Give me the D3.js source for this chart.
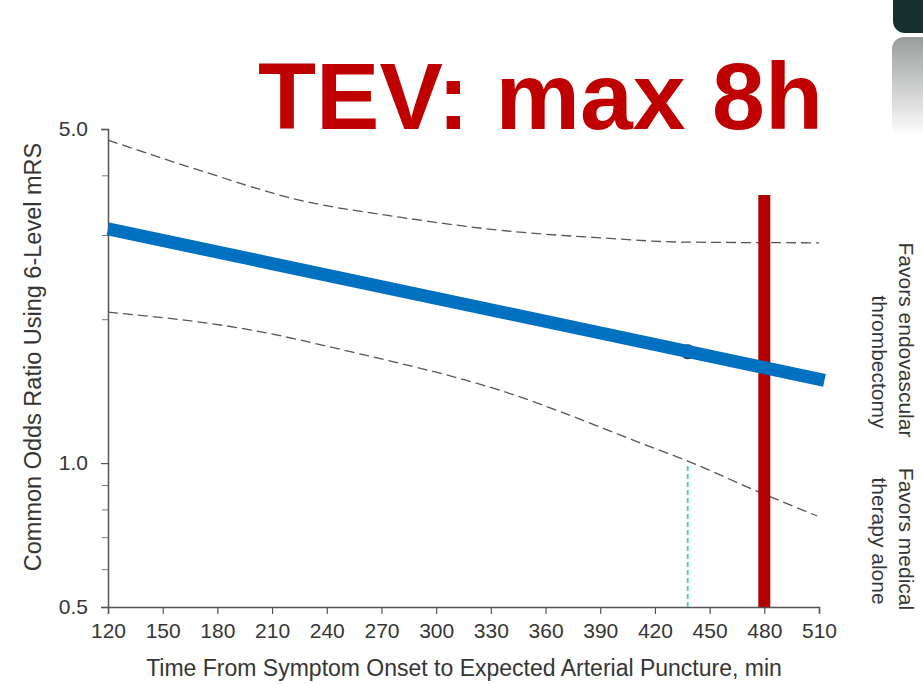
<!DOCTYPE html>
<html>
<head>
<meta charset="utf-8">
<script src="https://cdn.jsdelivr.net/npm/d3@7"></script>
<style>
  html, body { margin: 0; padding: 0; background: #ffffff; }
  svg { display: block; }
</style>
</head>
<body>
<div id="chart"></div>
<script>
// ---- data ----
const xTickValues = [120, 150, 180, 210, 240, 270, 300, 330, 360, 390, 420, 450, 480, 510];
const yMajorTicks = [0.5, 1.0, 5.0];
const yMinorTicks = [0.6, 0.7, 0.8, 0.9, 2, 3, 4];

const upperTime = [120, 170, 225, 280, 335, 390, 435, 510];
const upperOR   = [4.74, 4.10, 3.55, 3.27, 3.07, 2.96, 2.90, 2.89];

const lowerTime = [120, 198, 253, 335, 418, 438, 474, 509];
const lowerOR   = [2.07, 1.90, 1.71, 1.42, 1.08, 1.01, 0.88, 0.775];

const trendTime = [120, 513];
const trendOR   = [3.09, 1.49];

const pointTime = [438];
const pointOR   = [1.71];

const crossTime = [438];
const crossOR   = [0.5, 1.0];

const limitTime = [480];
const limitOR   = [0.5, 3.64];

const titleText = "TEV: max 8h";
const xTitle = "Time From Symptom Onset to Expected Arterial Puncture, min";
const yTitle = "Common Odds Ratio Using 6-Level mRS";
const rightLabels = [["Favors endovascular", "thrombectomy"], ["Favors medical", "therapy alone"]];

// ---- layout ----
const W = 923, H = 684;
const svg = d3.select("#chart").append("svg").attr("width", W).attr("height", H);

const x = d3.scaleLinear().domain([120, 510]).range([108, 819]);
const y = d3.scaleLog().domain([0.5, 5]).range([607, 129]);

const font = "'Liberation Sans', Arial, sans-serif";
const textCol = "#353535";
const axisCol = "#555";

// decorative corner shapes
const defs = svg.append("defs");
const grad = defs.append("linearGradient").attr("id", "gfade").attr("x1", 0).attr("y1", 0).attr("x2", 0).attr("y2", 1);
grad.append("stop").attr("offset", "0%").attr("stop-color", "#9a9c9c");
grad.append("stop").attr("offset", "100%").attr("stop-color", "#ffffff");
svg.append("rect").attr("x", 893).attr("y", -20).attr("width", 60).attr("height", 53).attr("rx", 12).attr("fill", "#15302f");
svg.append("rect").attr("x", 892).attr("y", 37).attr("width", 60).attr("height", 100).attr("rx", 12).attr("fill", "url(#gfade)");

// axes
const xAxis = d3.axisBottom(x).tickValues(xTickValues).tickSize(7).tickPadding(9).tickFormat(d3.format("d"));
const gx = svg.append("g").attr("transform", `translate(0,${y(0.5)})`).call(xAxis);
gx.select(".domain").attr("stroke", axisCol).attr("stroke-width", 1.5);
gx.selectAll(".tick line").attr("stroke", axisCol).attr("stroke-width", 1.2);
gx.selectAll("text").attr("font-family", font).attr("font-size", 21).attr("fill", textCol);

const yAxis = d3.axisLeft(y).tickValues(yMajorTicks).tickSize(7).tickPadding(13).tickFormat(d3.format(".1f"));
const gy = svg.append("g").attr("transform", `translate(${x(120)},0)`).call(yAxis);
gy.select(".domain").attr("stroke", axisCol).attr("stroke-width", 1.5);
gy.selectAll(".tick line").attr("stroke", axisCol).attr("stroke-width", 1.2);
gy.selectAll("text").attr("font-family", font).attr("font-size", 21).attr("fill", textCol);

const yMinor = d3.axisLeft(y).tickValues(yMinorTicks).tickSize(6).tickFormat("");
const gym = svg.append("g").attr("transform", `translate(${x(120)},0)`).call(yMinor);
gym.select(".domain").remove();
gym.selectAll(".tick line").attr("stroke", "#777").attr("stroke-width", 1);

// axis titles
svg.append("text").attr("x", 464).attr("y", 676).attr("text-anchor", "middle")
  .attr("font-family", font).attr("font-size", 23).attr("fill", textCol).text(xTitle);
svg.append("text").attr("transform", "translate(41,357) rotate(-90)").attr("text-anchor", "middle")
  .attr("font-family", font).attr("font-size", 23.5).attr("fill", textCol).text(yTitle);

// right labels (rotated clockwise)
const rCenters = [[340, 362], [539, 541]];
rightLabels.forEach((lines, i) => {
  lines.forEach((s, j) => {
    svg.append("text").attr("transform", `translate(${899 - j * 27},${rCenters[i][j]}) rotate(90)`)
      .attr("text-anchor", "middle").attr("font-family", font).attr("font-size", 21)
      .attr("fill", textCol).text(s);
  });
});

// confidence bands (dashed)
const line = d3.line().x(d => x(d[0])).y(d => y(d[1])).curve(d3.curveMonotoneX);
svg.append("path").datum(d3.zip(upperTime, upperOR)).attr("d", line)
  .attr("fill", "none").attr("stroke", "#555").attr("stroke-width", 1.3).attr("stroke-dasharray", "10,5");
svg.append("path").datum(d3.zip(lowerTime, lowerOR)).attr("d", line)
  .attr("fill", "none").attr("stroke", "#555").attr("stroke-width", 1.3).attr("stroke-dasharray", "10,5");

// green crossing marker
svg.append("line").attr("x1", x(crossTime[0])).attr("x2", x(crossTime[0]))
  .attr("y1", y(crossOR[0])).attr("y2", y(crossOR[1]))
  .attr("stroke", "#3fd4a8").attr("stroke-width", 1.8).attr("stroke-dasharray", "5,3");

// point estimate
svg.selectAll("circle.pt").data(d3.zip(pointTime, pointOR)).join("circle").attr("class", "pt")
  .attr("cx", d => x(d[0])).attr("cy", d => y(d[1])).attr("r", 7.5).attr("fill", "#333");

// red limit line
svg.append("line").attr("x1", x(limitTime[0])).attr("x2", x(limitTime[0]))
  .attr("y1", y(limitOR[0])).attr("y2", y(limitOR[1]))
  .attr("stroke", "#b00000").attr("stroke-width", 12);

// blue trend line
svg.append("path").datum(d3.zip(trendTime, trendOR)).attr("d", d3.line().x(d => x(d[0])).y(d => y(d[1])))
  .attr("fill", "none").attr("stroke", "#0070c0").attr("stroke-width", 13);

// title
svg.append("text").attr("x", 258).attr("y", 129).attr("font-family", font).attr("font-weight", "bold")
  .attr("font-size", 95).attr("fill", "#c00000").text(titleText);
</script>
</body>
</html>
